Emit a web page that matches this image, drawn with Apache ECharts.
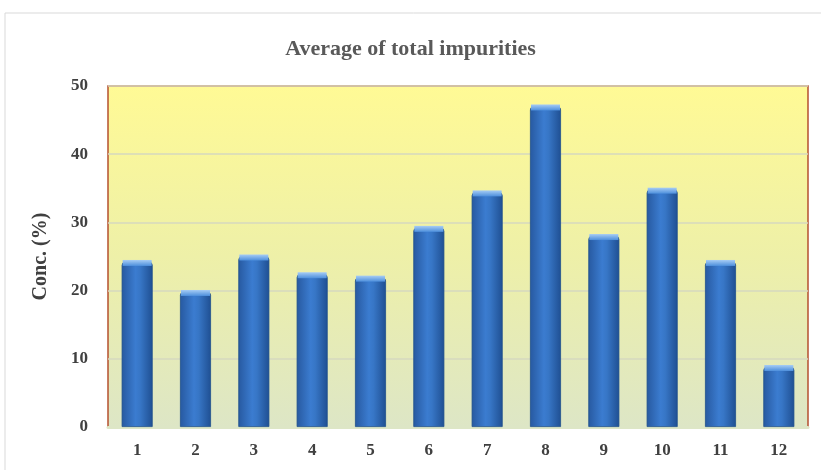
<!DOCTYPE html>
<html>
<head>
<meta charset="utf-8">
<script src="https://cdn.jsdelivr.net/npm/echarts@6/dist/echarts.min.js"></script>
<style>
  html, body { margin: 0; padding: 0; background: #fff; }
  #main { width: 821px; height: 470px; }
</style>
</head>
<body>
<div id="main"></div>
<script>
// chart data
var categories = ['1', '2', '3', '4', '5', '6', '7', '8', '9', '10', '11', '12'];
var impurities = [24.2, 19.8, 25.0, 22.4, 21.9, 29.2, 34.4, 47.0, 28.0, 34.8, 24.2, 8.8];
var yTicks = { min: 0, max: 50, interval: 10 };

var serif = '"Liberation Serif", "DejaVu Serif", serif';

var chart = echarts.init(document.getElementById('main'));

var option = {
  animation: false,
  title: {
    text: 'Average of total impurities',
    left: 'center',
    top: 33,
    textStyle: { fontFamily: serif, fontWeight: 'bold', fontSize: 22, color: '#595959' }
  },
  graphic: [{
    type: 'rect',
    shape: { x: 5, y: 13, width: 840, height: 480 },
    style: { fill: 'none', stroke: '#d9d9d9', lineWidth: 1 },
    silent: true,
    z: -10
  }],
  grid: {
    left: 108, right: 13, top: 86, bottom: 43,
    show: true,
    borderColor: '#b5502f',
    borderWidth: 1.5,
    backgroundColor: new echarts.graphic.LinearGradient(0, 0, 0, 1, [
      { offset: 0, color: '#fffa95' },
      { offset: 0.5, color: '#eef0a8' },
      { offset: 1, color: '#dde6c6' }
    ])
  },
  xAxis: {
    type: 'category',
    data: categories,
    axisTick: { show: false },
    axisLine: { lineStyle: { color: '#dde6c6', width: 3 } },
    axisLabel: { margin: 15, fontFamily: serif, fontWeight: 'bold', fontSize: 17, color: '#404040' }
  },
  yAxis: {
    type: 'value',
    min: yTicks.min, max: yTicks.max, interval: yTicks.interval,
    name: 'Conc. (%)',
    nameLocation: 'middle',
    nameGap: 57,
    nameTextStyle: { fontFamily: serif, fontWeight: 'bold', fontSize: 20, color: '#404040' },
    axisLine: { show: false },
    axisTick: { show: false },
    axisLabel: { margin: 20, fontFamily: serif, fontWeight: 'bold', fontSize: 17, color: '#404040' },
    splitLine: { lineStyle: { color: '#d6d8bf', width: 1.5 } }
  },
  series: [{
    type: 'bar',
    data: impurities,
    barWidth: 31,
    itemStyle: {
      borderRadius: [3, 3, 0, 0],
      borderColor: '#1e4f8c',
      borderWidth: 0.8,
      color: new echarts.graphic.LinearGradient(0, 0, 1, 0, [
        { offset: 0, color: '#2759a0' },
        { offset: 0.45, color: '#3b7cd0' },
        { offset: 0.6, color: '#3776c6' },
        { offset: 1, color: '#1f4f92' }
      ])
    }
  }, {
    // light bevel cap on top of each bar
    type: 'pictorialBar',
    data: impurities,
    symbol: 'rect',
    symbolSize: [29, 6],
    symbolPosition: 'end',
    symbolOffset: [0, -2],
    z: 3,
    itemStyle: {
      color: new echarts.graphic.LinearGradient(0, 0, 0, 1, [
        { offset: 0, color: '#a7cdf5' },
        { offset: 1, color: '#4d8fdc' }
      ])
    }
  }]
};

chart.setOption(option);
</script>
</body>
</html>
